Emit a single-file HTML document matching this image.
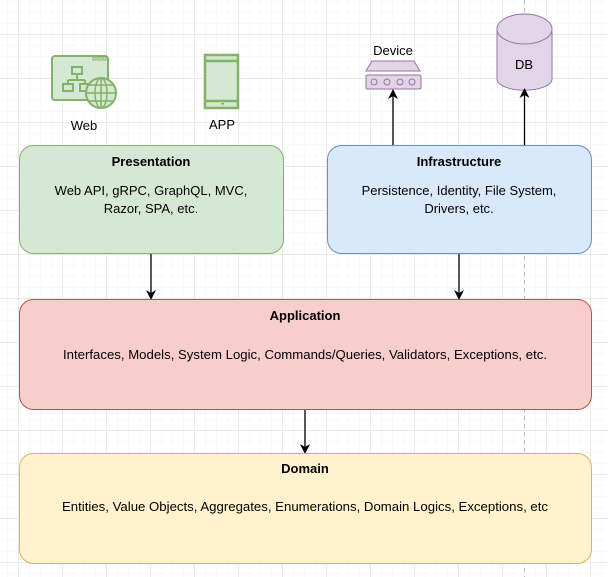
<!DOCTYPE html>
<html><head><meta charset="utf-8"><style>
body{margin:0;background:#fff}
svg{display:block;font-family:"Liberation Sans",Arial,sans-serif}
</style></head><body>
<svg width="608" height="577" viewBox="0 0 608 577" xmlns="http://www.w3.org/2000/svg">
<defs>
<pattern id="minor" width="11" height="11" patternUnits="userSpaceOnUse" x="7.5" y="1.5">
<path d="M11 0V11M0 11H11" fill="none" stroke="#f3f3f3" stroke-width="1"/>
</pattern>
<pattern id="major" width="44" height="44" patternUnits="userSpaceOnUse" x="18.5" y="34.5">
<path d="M0 0V44M0 0H44" fill="none" stroke="#e2e2e2" stroke-width="1"/>
</pattern>
<marker id="ar" markerWidth="12" markerHeight="12" refX="9" refY="6" orient="auto" markerUnits="userSpaceOnUse">
<path d="M0 1L10 6L0 11L3 6Z" fill="#000"/>
</marker>
</defs>
<rect width="608" height="577" fill="url(#minor)"/>
<rect width="608" height="577" fill="url(#major)"/>
<line x1="524.5" y1="0" x2="524.5" y2="577" stroke="#bbb" stroke-dasharray="4 4"/>

<!-- Web icon -->
<g stroke="#82b366" fill="#d5e8d4" stroke-width="2">
<rect x="52" y="56" width="56" height="44" rx="3"/>
<rect x="93" y="57" width="3" height="3" stroke-width="1"/><rect x="98" y="57" width="3" height="3" stroke-width="1"/><rect x="103" y="57" width="3" height="3" stroke-width="1"/>
<rect x="72" y="67" width="10" height="7"/>
<rect x="63" y="84" width="10" height="7"/>
<rect x="80" y="84" width="10" height="7"/>
<path d="M77 74V80M68 80H85M68 80V84M85 80V84" fill="none"/>
<circle cx="101" cy="93" r="15"/>
<path d="M86 93H116M101 78V108M89 85H113M89 101H113" fill="none" stroke-width="1.5"/>
<ellipse cx="101" cy="93" rx="6" ry="15" fill="none" stroke-width="1.5"/>
</g>
<text x="84" y="130" font-size="13" text-anchor="middle">Web</text>
<!-- APP icon -->
<g stroke="#82b366" fill="#d5e8d4" stroke-width="2.5">
<rect x="205" y="55" width="33" height="53"/>
<path d="M205 61H238M205 101H238" fill="none"/>
</g>
<rect x="221" y="103" width="3" height="1.5" fill="#82b366"/>
<text x="222" y="129" font-size="13" text-anchor="middle">APP</text>

<!-- Device -->
<text x="393" y="55" font-size="13" text-anchor="middle">Device</text>
<g stroke="#9673a6" fill="#e1d5e7" stroke-width="1">
<path d="M366 71L372 61H414L420 71Z"/>
<rect x="366" y="75" width="55" height="14" rx="1.5"/>
<circle cx="374" cy="82" r="3"/><circle cx="387" cy="82" r="3"/><circle cx="400" cy="82" r="3"/><circle cx="412" cy="82" r="3"/>
</g>
<!-- DB -->
<g stroke="#9673a6" fill="#e1d5e7" stroke-width="1">
<path d="M497 29V79A27 11 0 0 0 552 79V29"/>
<ellipse cx="524.5" cy="29" rx="27.5" ry="15"/>
</g>
<text x="524" y="69" font-size="13" text-anchor="middle">DB</text>

<!-- arrows -->
<g stroke="#000" stroke-width="1.3" marker-end="url(#ar)">
<line x1="393" y1="145" x2="393" y2="90"/>
<line x1="524.5" y1="145" x2="524.5" y2="89"/>
<line x1="151" y1="254" x2="151" y2="299"/>
<line x1="459" y1="254" x2="459" y2="299"/>
<line x1="305" y1="409" x2="305" y2="453"/>
</g>

<!-- boxes -->
<rect x="19.5" y="145.5" width="264" height="108" rx="14" fill="#d5e8d4" stroke="#82b366"/>
<text x="151" y="166" font-size="13" font-weight="bold" text-anchor="middle">Presentation</text>
<text x="151" y="195" font-size="13" text-anchor="middle">Web API, gRPC, GraphQL, MVC,</text>
<text x="151" y="213" font-size="13" text-anchor="middle">Razor, SPA, etc.</text>

<rect x="327.5" y="145.5" width="264" height="108" rx="14" fill="#dae8fc" stroke="#6c8ebf"/>
<text x="459" y="166" font-size="13" font-weight="bold" text-anchor="middle">Infrastructure</text>
<text x="459" y="195" font-size="13" text-anchor="middle">Persistence, Identity, File System,</text>
<text x="459" y="213" font-size="13" text-anchor="middle">Drivers, etc.</text>

<rect x="19.5" y="299.5" width="572" height="110" rx="14" fill="#f8cecc" stroke="#b85450"/>
<text x="305" y="320" font-size="13" font-weight="bold" text-anchor="middle">Application</text>
<text x="305" y="359" font-size="13" text-anchor="middle" textLength="484" lengthAdjust="spacingAndGlyphs">Interfaces, Models, System Logic, Commands/Queries, Validators, Exceptions, etc.</text>

<rect x="19.5" y="453.5" width="572" height="110" rx="14" fill="#fff2cc" stroke="#d6b656"/>
<text x="305" y="473" font-size="13" font-weight="bold" text-anchor="middle">Domain</text>
<text x="305" y="511" font-size="13" text-anchor="middle" textLength="486" lengthAdjust="spacingAndGlyphs">Entities, Value Objects, Aggregates, Enumerations, Domain Logics, Exceptions, etc</text>
</svg>
</body></html>
